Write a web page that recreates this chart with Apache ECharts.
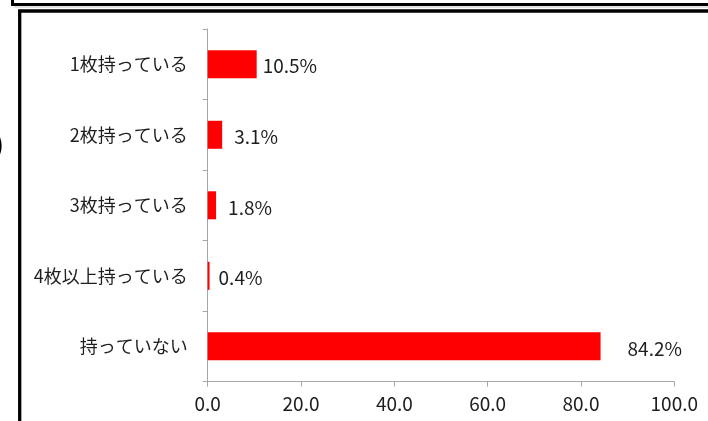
<!DOCTYPE html>
<html>
<head>
<meta charset="utf-8">
<script src="https://cdn.jsdelivr.net/npm/echarts@6/dist/echarts.min.js"></script>
<style>
  html, body { margin: 0; padding: 0; background: #fff; }
  #chart { width: 708px; height: 421px; }
</style>
</head>
<body>
<div id="chart"></div>
<script>
// Number of cards held (share of respondents, %)
const categories = ['1枚持っている', '2枚持っている', '3枚持っている', '4枚以上持っている', '持っていない'];
const shares = [10.5, 3.1, 1.8, 0.4, 84.2];
const xTicks = { min: 0, max: 100, interval: 20 };

// gap between each bar end and its value label, in px
const labelGaps = [6, 12, 12, 9, 27];

const FONT = '"Noto Sans CJK JP", "Noto Sans", sans-serif';
const AXIS_GRAY = '#a6a6a6';

const chart = echarts.init(document.getElementById('chart'), null, { renderer: 'canvas' });

chart.setOption({
  animation: false,
  backgroundColor: '#ffffff',
  grid: { left: 207.7, right: 33.7, top: 29, bottom: 39.4, containLabel: false },
  xAxis: {
    type: 'value',
    min: xTicks.min,
    max: xTicks.max,
    interval: xTicks.interval,
    axisLine: { show: true, lineStyle: { color: AXIS_GRAY, width: 1 } },
    axisTick: { show: true, length: 5, lineStyle: { color: AXIS_GRAY } },
    splitLine: { show: false },
    axisLabel: {
      margin: 13,
      color: '#1e1e1e',
      fontFamily: FONT,
      fontSize: 19,
      formatter: v => v.toFixed(1)
    }
  },
  yAxis: {
    type: 'category',
    inverse: true,
    data: categories,
    axisLine: { show: true, lineStyle: { color: AXIS_GRAY, width: 1 } },
    axisTick: { show: true, length: 5, lineStyle: { color: AXIS_GRAY } },
    axisLabel: {
      margin: 20,
      color: '#1e1e1e',
      fontFamily: FONT,
      fontSize: 18
    }
  },
  series: [{
    type: 'bar',
    barWidth: 28,
    itemStyle: { color: '#ff0000' },
    data: shares.map((v, i) => ({
      value: v,
      label: { distance: labelGaps[i] }
    })),
    label: {
      show: true,
      position: 'right',
      color: '#1e1e1e',
      fontFamily: FONT,
      fontSize: 19,
      offset: [0, 2],
      formatter: p => p.value.toFixed(1) + '%'
    }
  }],
  graphic: [
    // frame of the panel above
    { type: 'rect', shape: { x: 12.5, y: -20, width: 720, height: 24.5 },
      style: { fill: 'none', stroke: '#000', lineWidth: 3 }, silent: true },
    { type: 'line', shape: { x1: 14, y1: 7, x2: 708, y2: 7 },
      style: { stroke: '#c8c8c8', lineWidth: 1 }, silent: true },
    // frame of this panel
    { type: 'rect', shape: { x: 19.7, y: 11, width: 720, height: 440 },
      style: { fill: 'none', stroke: '#000', lineWidth: 3.3 }, silent: true },
    // closing parenthesis from the neighbouring panel
    { type: 'text', x: 4, y: 144,
      style: { text: ')', fontSize: 26, fontFamily: FONT, fill: '#000',
               align: 'right', verticalAlign: 'middle' }, silent: true }
  ]
});
</script>
</body>
</html>
